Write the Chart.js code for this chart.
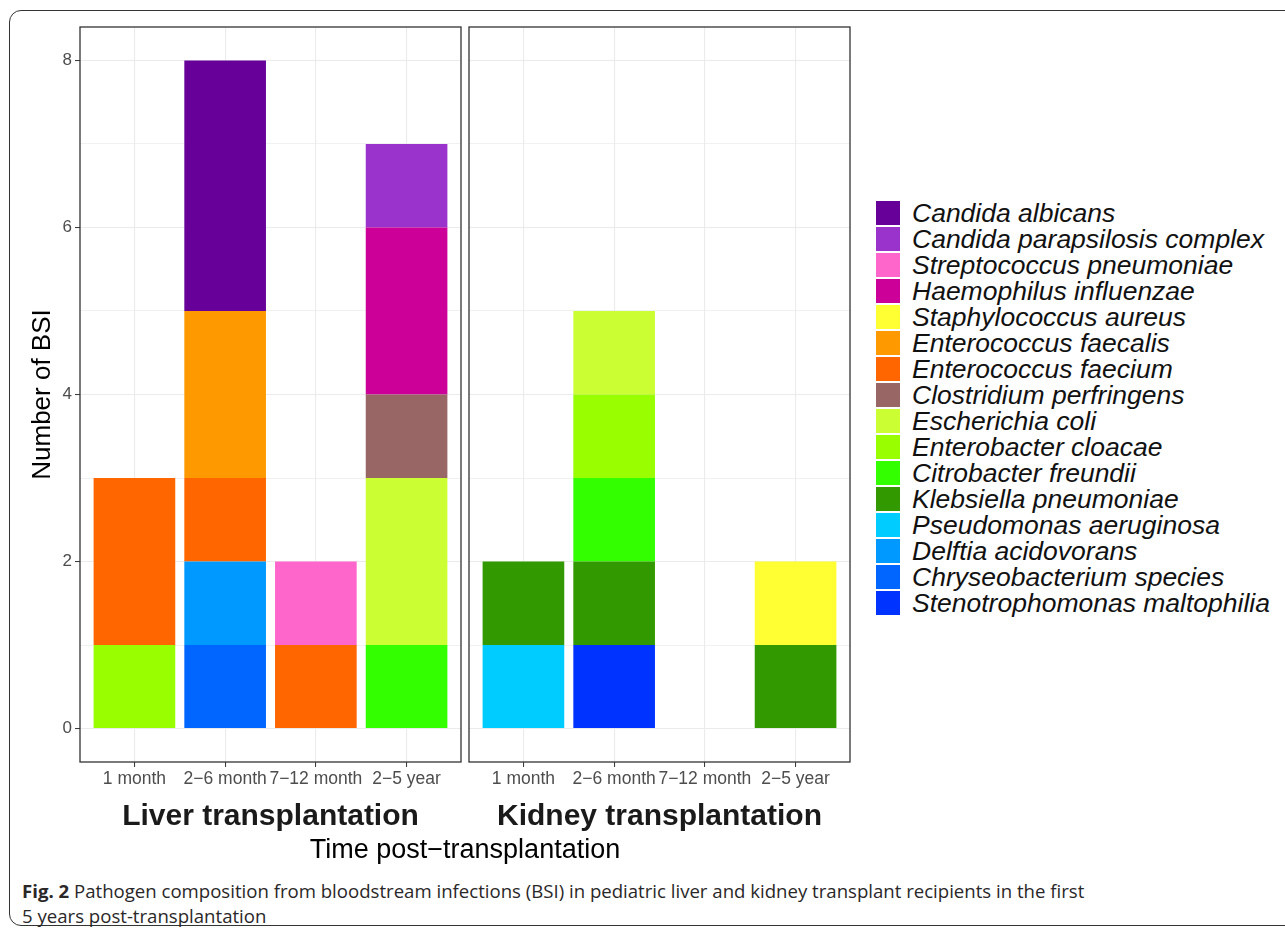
<!DOCTYPE html>
<html>
<head>
<meta charset="utf-8">
<script src="https://cdn.jsdelivr.net/npm/chart.js@4.4.0/dist/chart.umd.min.js"></script>
<style>
    body { margin: 0; background: #fff; width: 1285px; height: 936px; overflow: hidden; position: relative; font-family: "Liberation Sans", Arial, sans-serif; }
    #frame { position: absolute; left: 9px; top: 10px; width: 1300px; height: 914px; border: 1.5px solid #333; border-radius: 12px; }
    .chartBox { position: absolute; top: 0; }
    #legend { position: absolute; left: 876px; top: 200px; }
    .legendRow { height: 26px; position: relative; }
    .legendKey { position: absolute; left: 0; top: 1px; width: 24px; height: 24px; }
    .legendText { position: absolute; left: 36px; top: 0; line-height: 26px; font-size: 26.5px; font-style: italic; color: #111; white-space: nowrap; }
    #xTitle { position: absolute; left: 265px; width: 400px; top: 834px; text-align: center; font-size: 27px; color: #000; }
    #caption { position: absolute; left: 22px; top: 878px; font-family: "Open Sans", sans-serif; font-size: 18.6px; line-height: 25px; color: #2a2728; white-space: nowrap; }
</style>
</head>
<body>
<div id="frame"></div>
<div class="chartBox" style="left:0px;width:470px;height:840px"><canvas id="liverChart"></canvas></div>
<div class="chartBox" style="left:460px;width:410px;height:840px"><canvas id="kidneyChart"></canvas></div>
<div id="legend"></div>
<div id="xTitle">Time post−transplantation</div>
<div id="caption"><b>Fig. 2</b> Pathogen composition from bloodstream infections (BSI) in pediatric liver and kidney transplant recipients in the first<br>5 years post-transplantation</div>
<script>
// thời gian sau ghép (trục x)
const timeLabels = ['1 month', '2−6 month', '7−12 month', '2−5 year'];

// tên vi khuẩn, theo thứ tự chú giải (trên xuống dưới)
const species = [
    'Candida albicans', 'Candida parapsilosis complex', 'Streptococcus pneumoniae',
    'Haemophilus influenzae', 'Staphylococcus aureus', 'Enterococcus faecalis',
    'Enterococcus faecium', 'Clostridium perfringens', 'Escherichia coli',
    'Enterobacter cloacae', 'Citrobacter freundii', 'Klebsiella pneumoniae',
    'Pseudomonas aeruginosa', 'Delftia acidovorans', 'Chryseobacterium species',
    'Stenotrophomonas maltophilia'
];

const speciesColors = [
    '#660099', '#9933CC', '#FF66CC', '#CC0099', '#FFFF33', '#FF9900', '#FF6600', '#996666',
    '#CCFF33', '#99FF00', '#33FF00', '#339900', '#00CCFF', '#0099FF', '#0066FF', '#0033FF'
];

// số ca BSI - ghép gan (mỗi dòng là 1 loài, cột là mốc thời gian)
const liverCounts = [
    [0, 3, 0, 0],  // Candida albicans
    [0, 0, 0, 1],  // Candida parapsilosis complex
    [0, 0, 1, 0],  // Streptococcus pneumoniae
    [0, 0, 0, 2],  // Haemophilus influenzae
    [0, 0, 0, 0],  // Staphylococcus aureus
    [0, 2, 0, 0],  // Enterococcus faecalis
    [2, 1, 1, 0],  // Enterococcus faecium
    [0, 0, 0, 1],  // Clostridium perfringens
    [0, 0, 0, 2],  // Escherichia coli
    [1, 0, 0, 0],  // Enterobacter cloacae
    [0, 0, 0, 1],  // Citrobacter freundii
    [0, 0, 0, 0],  // Klebsiella pneumoniae
    [0, 0, 0, 0],  // Pseudomonas aeruginosa
    [0, 1, 0, 0],  // Delftia acidovorans
    [0, 1, 0, 0],  // Chryseobacterium species
    [0, 0, 0, 0]   // Stenotrophomonas maltophilia
];

// số ca BSI - ghép thận
const kidneyCounts = [
    [0, 0, 0, 0],
    [0, 0, 0, 0],
    [0, 0, 0, 0],
    [0, 0, 0, 0],
    [0, 0, 0, 1],  // Staphylococcus aureus
    [0, 0, 0, 0],
    [0, 0, 0, 0],
    [0, 0, 0, 0],
    [0, 1, 0, 0],  // Escherichia coli
    [0, 1, 0, 0],  // Enterobacter cloacae
    [0, 1, 0, 0],  // Citrobacter freundii
    [1, 1, 0, 1],  // Klebsiella pneumoniae
    [1, 0, 0, 0],  // Pseudomonas aeruginosa
    [0, 0, 0, 0],
    [0, 0, 0, 0],
    [0, 1, 0, 0]   // Stenotrophomonas maltophilia
];

const yTicks = [0, 1, 2, 3, 4, 5, 6, 7, 8];

const FONT = '"Liberation Sans", Arial, sans-serif';

// vẽ khung viền panel
const panelBorder = {
    id: 'panelBorder',
    afterDraw(chart) {
        const a = chart.chartArea;
        const ctx = chart.ctx;
        ctx.save();
        ctx.strokeStyle = '#333333';
        ctx.lineWidth = 1.3;
        ctx.strokeRect(a.left, a.top, a.right - a.left, a.bottom - a.top);
        ctx.restore();
    }
};

function buildDatasets(counts) {
    // loài cuối cùng nằm dưới đáy cột (giống ggplot)
    const sets = [];
    for (let s = species.length - 1; s >= 0; s--) {
        sets.push({
            label: species[s],
            data: counts[s].map((v, i) => ({ x: i, y: v })),
            backgroundColor: speciesColors[s],
            borderWidth: 0,
            stack: 'all',
            barPercentage: 0.9,
            categoryPercentage: 1.0
        });
    }
    return sets;
}

function makePanel(canvasId, counts, stripText, showYAxis) {
    const ctx = document.getElementById(canvasId).getContext('2d');
    return new Chart(ctx, {
        type: 'bar',
        data: { datasets: buildDatasets(counts) },
        options: {
            responsive: true,
            maintainAspectRatio: false,
            animation: false,
            layout: {
                padding: showYAxis ? { top: 27, right: 9, left: 0, bottom: 0 }
                                   : { top: 27, right: 20, left: 9, bottom: 0 }
            },
            scales: {
                x: {
                    type: 'linear',
                    min: -0.6,
                    max: 3.6,
                    offset: false,
                    stacked: true,
                    afterBuildTicks: (scale) => {
                        scale.ticks = timeLabels.map((_, i) => ({ value: i }));
                    },
                    afterFit: (scale) => { scale.height = 78; },
                    grid: {
                        offset: false,
                        color: '#EBEBEB',
                        lineWidth: 1.1,
                        tickColor: '#333333',
                        tickLength: 5,
                        tickWidth: 1
                    },
                    border: { display: false },
                    ticks: {
                        autoSkip: false,
                        maxRotation: 0,
                        minRotation: 0,
                        padding: 2,
                        color: '#4D4D4D',
                        font: { family: FONT, size: 17.5 },
                        callback: (value) => timeLabels[value]
                    },
                    title: {
                        display: true,
                        text: stripText,
                        color: '#1A1A1A',
                        padding: { top: 0, bottom: 5 },
                        font: { family: FONT, size: 30, weight: 'bold' }
                    }
                },
                y: {
                    min: -0.4,
                    max: 8.4,
                    stacked: true,
                    afterBuildTicks: (scale) => {
                        scale.ticks = yTicks.map(v => ({ value: v }));
                    },
                    afterFit: (scale) => { scale.width = showYAxis ? 80 : 0; },
                    grid: {
                        color: '#EBEBEB',
                        lineWidth: (c) => (c.tick && c.tick.value % 2 === 0) ? 1.1 : 0.7,
                        drawTicks: showYAxis,
                        tickColor: (c) => (c.tick && c.tick.value % 2 === 0) ? '#333333' : 'rgba(0,0,0,0)',
                        tickLength: 5,
                        tickWidth: 1
                    },
                    border: { display: false },
                    ticks: {
                        display: showYAxis,
                        padding: 3,
                        color: '#4D4D4D',
                        font: { family: FONT, size: 17 },
                        callback: (value) => value % 2 === 0 ? value : ''
                    },
                    title: {
                        display: showYAxis,
                        text: 'Number of BSI',
                        color: '#000',
                        padding: { top: 27, bottom: 0 },
                        font: { family: FONT, size: 26 }
                    }
                }
            },
            plugins: {
                legend: { display: false },
                tooltip: { enabled: false }
            }
        },
        plugins: [panelBorder]
    });
}

// chú giải bên phải
function buildLegend() {
    const box = document.getElementById('legend');
    species.forEach((name, i) => {
        const row = document.createElement('div');
        row.className = 'legendRow';
        row.innerHTML = `<div class="legendKey" style="background:${speciesColors[i]}"></div>` +
                        `<div class="legendText">${name}</div>`;
        box.appendChild(row);
    });
}

buildLegend();
makePanel('liverChart', liverCounts, 'Liver transplantation', true);
makePanel('kidneyChart', kidneyCounts, 'Kidney transplantation', false);
</script>
</body>
</html>
